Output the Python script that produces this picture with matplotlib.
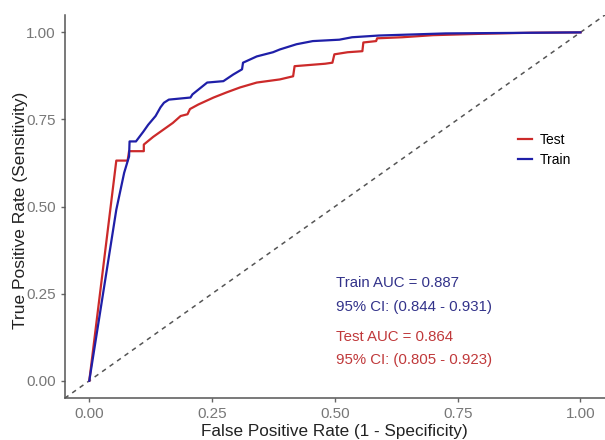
import matplotlib.pyplot as plt

plt.rcParams['font.family'] = ['Liberation Sans', 'DejaVu Sans']

# ROC corner points (false positive rate, true positive rate)
test_fpr = [0.0, 0.055, 0.078, 0.081, 0.111, 0.111, 0.13, 0.15, 0.17, 0.186,
            0.20, 0.205, 0.222, 0.253, 0.28, 0.307, 0.341, 0.388, 0.415, 0.418,
            0.48, 0.495, 0.499, 0.526, 0.556, 0.558, 0.584, 0.586, 0.637, 0.70,
            0.80, 0.90, 1.0]
test_tpr = [0.0, 0.632, 0.632, 0.659, 0.659, 0.678, 0.70, 0.72, 0.74, 0.760,
            0.765, 0.78, 0.793, 0.813, 0.828, 0.842, 0.856, 0.865, 0.874, 0.903,
            0.91, 0.913, 0.937, 0.943, 0.946, 0.971, 0.975, 0.983, 0.986, 0.992,
            0.996, 0.999, 1.0]

train_fpr = [0.0, 0.055, 0.071, 0.081, 0.082, 0.095, 0.11, 0.12, 0.135, 0.145,
             0.152, 0.162, 0.206, 0.21, 0.24, 0.273, 0.293, 0.311, 0.313, 0.341,
             0.374, 0.388, 0.422, 0.455, 0.509, 0.535, 0.59, 0.725, 1.0]
train_tpr = [0.0, 0.491, 0.597, 0.644, 0.687, 0.687, 0.715, 0.735, 0.76, 0.785,
             0.798, 0.807, 0.813, 0.822, 0.856, 0.86, 0.879, 0.894, 0.913, 0.931,
             0.943, 0.951, 0.966, 0.975, 0.979, 0.986, 0.991, 0.997, 1.0]

train_auc, train_ci = 0.887, (0.844, 0.931)
test_auc, test_ci = 0.864, (0.805, 0.923)

red = '#cc2a2a'
blue = '#1f1fa8'

fig = plt.figure(figsize=(6.05, 4.4), dpi=100)
ax = fig.add_axes([0.107, 0.095, 0.893, 0.871])

ax.plot([-0.05, 1.05], [-0.05, 1.05], ls=(0, (3, 3)), color='#555555', lw=1.1)
ax.plot(test_fpr, test_tpr, color=red, lw=1.6, label='Test')
ax.plot(train_fpr, train_tpr, color=blue, lw=1.6, label='Train')

tcol_train = '#33338a'
tcol_test = '#c0393b'
ax.text(0.502, 0.282, f'Train AUC = {train_auc:.3f}', color=tcol_train, fontsize=10.8, va='center')
ax.text(0.502, 0.213, f'95% CI: ({train_ci[0]:.3f} - {train_ci[1]:.3f})', color=tcol_train, fontsize=10.8, va='center')
ax.text(0.502, 0.126, f'Test AUC = {test_auc:.3f}', color=tcol_test, fontsize=10.8, va='center')
ax.text(0.502, 0.060, f'95% CI: ({test_ci[0]:.3f} - {test_ci[1]:.3f})', color=tcol_test, fontsize=10.8, va='center')

ax.set_xlim(-0.05, 1.05)
ax.set_ylim(-0.05, 1.05)
ax.set_xticks([0, 0.25, 0.5, 0.75, 1.0])
ax.set_yticks([0, 0.25, 0.5, 0.75, 1.0])
ax.set_xticklabels(['0.00', '0.25', '0.50', '0.75', '1.00'])
ax.set_yticklabels(['0.00', '0.25', '0.50', '0.75', '1.00'])
ax.tick_params(colors='#666666', labelcolor='#777777', labelsize=11, length=3, width=1)

for s in ['top', 'right']:
    ax.spines[s].set_visible(False)
for s in ['left', 'bottom']:
    ax.spines[s].set_color('#555555')
    ax.spines[s].set_linewidth(1.1)

ax.set_xlabel('False Positive Rate (1 - Specificity)', fontsize=12.3, color='#222222', labelpad=2)
ax.set_ylabel('True Positive Rate (Sensitivity)', fontsize=12.5, color='#222222')
ax.yaxis.set_label_coords(-0.068, 0.49)

ax.legend(loc='center', bbox_to_anchor=(0.888, 0.648), frameon=False, fontsize=10,
          handlelength=1.0, handletextpad=0.6, labelspacing=0.4)

fig.savefig('out.png', dpi=100)
